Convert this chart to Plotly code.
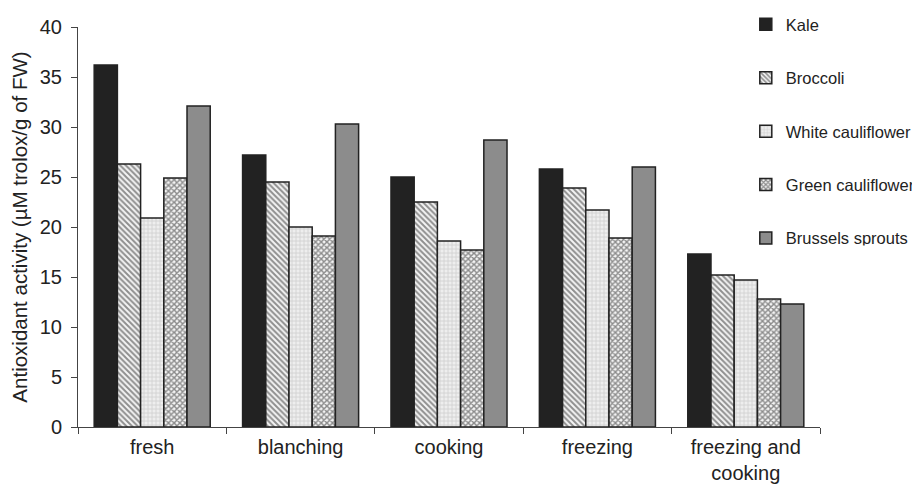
import plotly.graph_objects as go

categories = ["fresh", "blanching", "cooking", "freezing", "freezing and<br>cooking"]
kale = [36.2, 27.2, 25.0, 25.8, 17.3]
broccoli = [26.3, 24.5, 22.5, 23.9, 15.2]
white_cauliflower = [20.9, 20.0, 18.6, 21.7, 14.7]
green_cauliflower = [24.9, 19.1, 17.7, 18.9, 12.8]
brussels_sprouts = [32.1, 30.3, 28.7, 26.0, 12.3]

series = [
    ("Kale", kale, dict(color="#222222")),
    ("Broccoli", broccoli, dict(color="white", pattern=dict(shape="\\", fgcolor="#2a2a2a", bgcolor="#f4f4f4", size=4, solidity=0.5))),
    ("White cauliflower", white_cauliflower, dict(color="#e6e6e6", pattern=dict(shape="+", fgcolor="#b0b0b0", bgcolor="#eeeeee", size=4, solidity=0.35))),
    ("Green cauliflower", green_cauliflower, dict(color="white", pattern=dict(shape="x", fgcolor="#222222", bgcolor="#f4f4f4", size=4, solidity=0.6))),
    ("Brussels sprouts", brussels_sprouts, dict(color="#8c8c8c")),
]

fig = go.Figure()
for i, (name, vals, marker) in enumerate(series):
    marker = dict(marker)
    marker["line"] = dict(color="#222222", width=1.5)
    fig.add_trace(go.Bar(name=name, x=categories, y=vals, marker=marker, legendgroup=str(i)))

font = "Liberation Sans, Arial, sans-serif"
fig.update_layout(
    width=912, height=477,
    margin=dict(l=70, r=100, t=19, b=58, autoexpand=False),
    paper_bgcolor="white", plot_bgcolor="white",
    barmode="group", bargap=0.218, bargroupgap=0,
    font=dict(family=font, color="#222222", size=20),
    legend=dict(x=0.9, xanchor="left", y=1.05, yanchor="top",
                font=dict(size=16.5, family=font), tracegroupgap=29,
                itemwidth=30, bgcolor="rgba(0,0,0,0)"),
    xaxis=dict(showline=True, linecolor="#444", linewidth=1, ticks="outside",
               tickson="boundaries", ticklen=6, tickcolor="#444",
               tickfont=dict(size=20), showgrid=False, ticklabelstandoff=2),
    yaxis=dict(range=[0, 40], dtick=5, showline=True, linecolor="#444", linewidth=1,
               ticks="outside", ticklen=6, tickcolor="#444", showgrid=False,
               zeroline=False, tickfont=dict(size=20), ticklabelstandoff=5,
               title=dict(text="Antioxidant activity (µM trolox/g of FW)", font=dict(size=20.5), standoff=10)),
)
fig.write_html("out.html")
